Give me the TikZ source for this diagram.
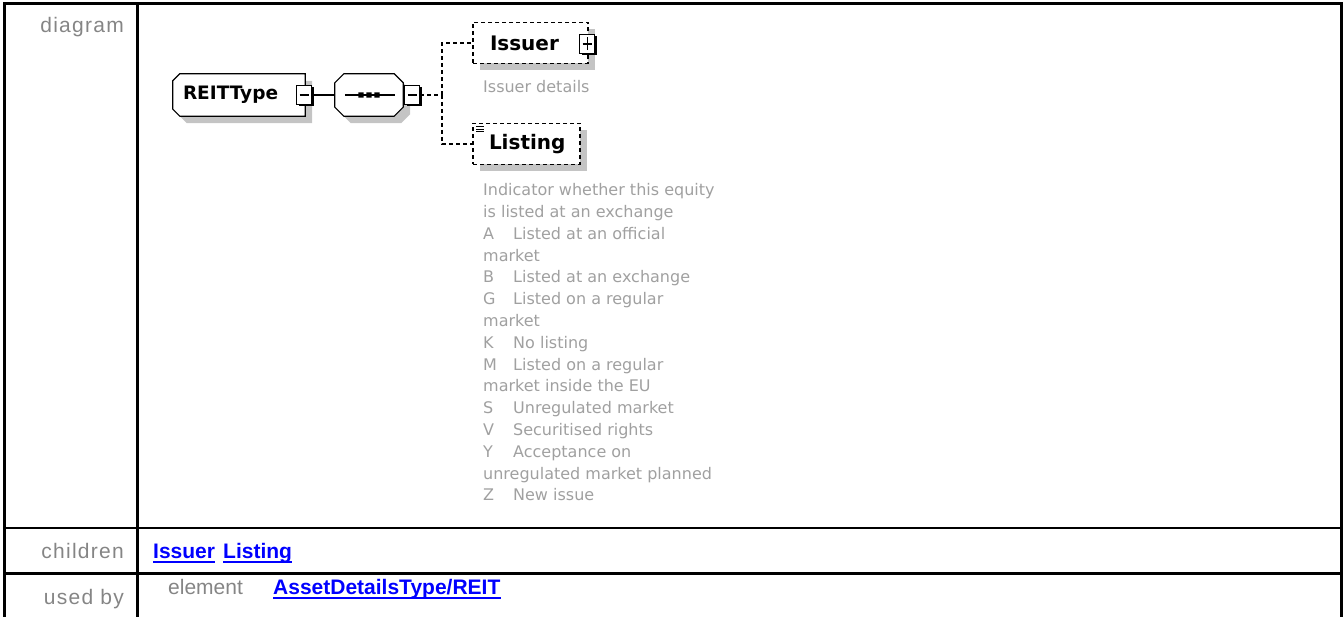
\documentclass[tikz,border=0pt]{standalone}
\usepackage{fontspec}
\usetikzlibrary{shadows,positioning,backgrounds}
\setmainfont{DejaVu Sans}
\newfontfamily\arialfont{Liberation Sans}
\newfontfamily\rowfont[LetterSpace=6]{Liberation Sans}
\definecolor{rowgray}{HTML}{858585}
\definecolor{notegray}{HTML}{A0A0A0}
\definecolor{shadowgray}{HTML}{C4C4C4}
\definecolor{linkblue}{HTML}{0000FF}
\newcommand\listcode[1]{\makebox[30pt][l]{#1}}
% outlines of the type box and the sequence box
\newcommand\leftcut[2]{([xshift=#2pt]#1.north west) -- (#1.north east) -- (#1.south east) -- ([xshift=#2pt]#1.south west) -- ([yshift=#2pt]#1.south west) -- ([yshift=-#2pt]#1.north west) -- cycle}
\newcommand\allcut[2]{([xshift=#2pt]#1.north west) -- ([xshift=-#2pt]#1.north east) -- ([yshift=-#2pt]#1.north east) -- ([yshift=#2pt]#1.south east) -- ([xshift=-#2pt]#1.south east) -- ([xshift=#2pt]#1.south west) -- ([yshift=#2pt]#1.south west) -- ([yshift=-#2pt]#1.north west) -- cycle}

\begin{document}
\begin{tikzpicture}[
    x=1pt, y=-1pt,
    rowlabel/.style={font=\rowfont\fontsize{21}{25}\selectfont, text=rowgray, anchor=base east, inner sep=0pt},
    link/.style={font=\arialfont\bfseries\fontsize{21}{25}\selectfont, text=linkblue, anchor=base west, inner sep=0pt},
    underline/.style={linkblue, line width=1.6pt},
    note/.style={font=\fontsize{16}{21.8}\selectfont, text=notegray, anchor=base west, inner sep=0pt, align=left},
    shade/.style={drop shadow={shadow xshift=7pt, shadow yshift=-7pt, fill=shadowgray, opacity=1}},
    shadow fill/.style={fill=shadowgray, transform canvas={xshift=7pt, yshift=-7pt}},
    outline/.style={draw, fill=white, line width=1.2pt},
    ctype/.style={minimum height=42pt, font=\bfseries\fontsize{18.5}{22}\selectfont, align=left},
    seqbox/.style={minimum width=68pt, minimum height=42pt, inner sep=0pt},
    elem/.style={draw, dash pattern=on 4pt off 3pt, fill=white, line width=1.3pt, shade, minimum height=41pt, font=\bfseries\fontsize{20}{24}\selectfont, align=left},
    pmbox/.style={draw, fill=white, line width=1.1pt, minimum width=15pt, minimum height=19pt, inner sep=0pt, drop shadow={shadow xshift=2pt, shadow yshift=-2pt, fill=black, opacity=1}},
    minusbox/.style={pmbox, path picture={\draw[line width=1.1pt] ([xshift=3pt]path picture bounding box.west) -- ([xshift=-3pt]path picture bounding box.east);}},
    plusbox/.style={pmbox, path picture={\draw[line width=1.1pt] ([xshift=3pt]path picture bounding box.west) -- ([xshift=-3pt]path picture bounding box.east);
        \draw[line width=1.1pt] ([yshift=-3pt]path picture bounding box.north) -- ([yshift=3pt]path picture bounding box.south);}},
    link line/.style={line width=1.3pt},
    opt line/.style={line width=1.3pt, dash pattern=on 4pt off 3pt}
]
\useasboundingbox (0,0) rectangle (1344,617);
% table frame
\draw[line width=3pt] (4.2,617) -- (4.2,3.5) -- (1341,3.5) -- (1341,617);
\draw[line width=3pt] (137.8,3.5) -- (137.8,617);
\draw[line width=2.5pt] (4.2,528) -- (1341,528);
\draw[line width=3pt] (4.2,573) -- (1341,573);
% row labels
\node[rowlabel] (rowdiag) at (124,33) {diagram};
\node[rowlabel] (rowchild) at (124,558) {children};
\node[rowlabel] (rowused) at (124,604) {used by};
% diagram
\node[ctype, text width=112pt, inner xsep=10pt] (reit) at (239,95) {REITType};
\node[seqbox] (seq) at (369,95) {};
\begin{scope}[on background layer]
  \fill[shadow fill] \leftcut{reit}{7};
  \fill[shadow fill] \allcut{seq}{9};
  \filldraw[outline] \leftcut{reit}{7};
  \filldraw[outline] \allcut{seq}{9};
\end{scope}
\node[minusbox] (reitmin) at ([xshift=-1pt]reit.east) {};
\draw[line width=1.2pt] ([xshift=10pt]seq.west) -- ([xshift=-8pt]seq.east);
\foreach \dx in {-8,0,8}
  \fill ([xshift=\dx pt]seq.center) rectangle ++(2.6,2.6) rectangle ++(-5.2,-5.2);
\node[minusbox, anchor=west] (seqmin) at ([xshift=1pt]seq.east) {};
\coordinate (fork) at (442,95);
\node[elem, text width=81pt, inner xsep=17pt] (issuer) at (530.5,43) {Issuer};
\node[plusbox] (issplus) at ([xshift=-1.5pt, yshift=-1pt]issuer.east) {};
\node[note] (issnote) at (483,93) {Issuer details};
\node[elem, text width=75pt, inner xsep=16pt] (listing) at (526.5,144) {Listing};
\foreach \dy in {4,6.5,9}
  \draw[line width=0.9pt] ([shift={(4,\dy)}]listing.north west) -- ++(8,0);
\node[note] (listnote) at (483,500.9) {Indicator whether this equity\\is listed at an exchange\\\listcode{A}Listed at an official\\market\\\listcode{B}Listed at an exchange\\\listcode{G}Listed on a regular\\market\\\listcode{K}No listing\\\listcode{M}Listed on a regular\\market inside the EU\\\listcode{S}Unregulated market\\\listcode{V}Securitised rights\\\listcode{Y}Acceptance on\\unregulated market planned\\\listcode{Z}New issue};
\draw[link line] (reitmin.east) -- (seq.west);
\draw[opt line] (seqmin.east) -- (fork);
\draw[opt line] (fork) |- (issuer.west);
\draw[opt line] (fork) |- (listing.west);
% children and used by
\node[link] (lnkissuer) at (153,558) {Issuer};
\node[link] (lnklisting) at (223,558) {Listing};
\node[font=\arialfont\fontsize{21}{25}\selectfont, text=rowgray, anchor=base west, inner sep=0pt] (usedkind) at (168,594) {element};
\node[link] (lnkreit) at (273,594) {AssetDetailsType/REIT};
\foreach \lk in {lnkissuer,lnklisting,lnkreit}
  \draw[underline] ([yshift=-4pt]\lk.base west) -- ([yshift=-4pt]\lk.base east);
\end{tikzpicture}
\end{document}
